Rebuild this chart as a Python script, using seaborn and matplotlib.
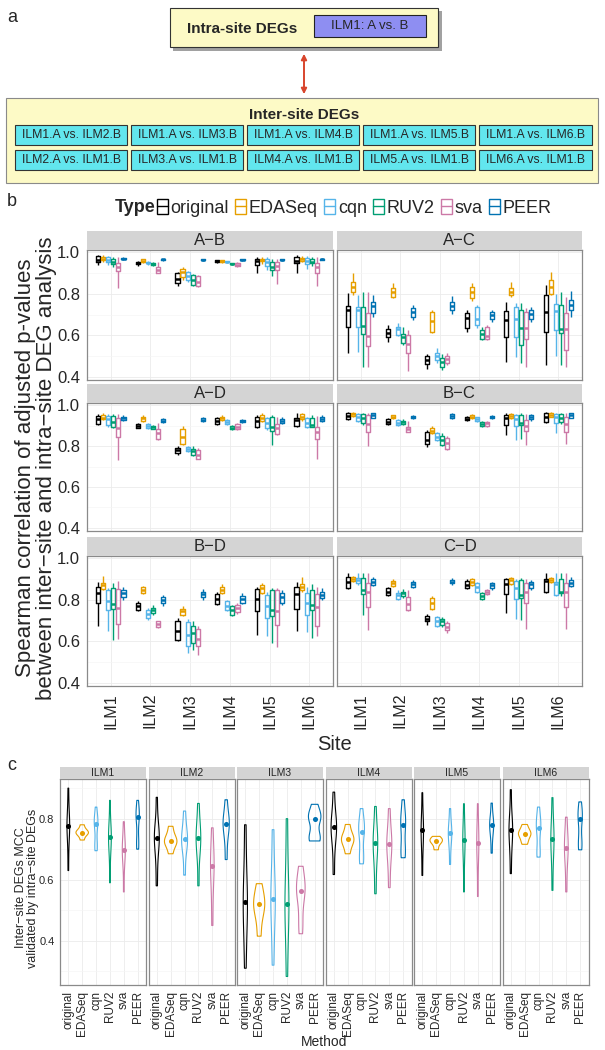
import numpy as np
import pandas as pd
import seaborn as sns
import matplotlib.pyplot as plt
from matplotlib.patches import Rectangle, Patch, FancyArrowPatch
from matplotlib.lines import Line2D

# ---------- data ----------
SITES = ["ILM1", "ILM2", "ILM3", "ILM4", "ILM5", "ILM6"]
METHODS = ["original", "EDASeq", "cqn", "RUV2", "sva", "PEER"]
COLORS = ["#000000", "#E69F00", "#56B4E9", "#009E73", "#CC79A7", "#0072B2"]
PAIRS = ["A−B", "A−C", "A−D", "B−C", "B−D", "C−D"]

# panel a labels
INTER_TOP = ["ILM1.A vs. ILM2.B", "ILM1.A vs. ILM3.B", "ILM1.A vs. ILM4.B",
             "ILM1.A vs. ILM5.B", "ILM1.A vs. ILM6.B"]
INTER_BOTTOM = ["ILM2.A vs. ILM1.B", "ILM3.A vs. ILM1.B", "ILM4.A vs. ILM1.B",
                "ILM5.A vs. ILM1.B", "ILM6.A vs. ILM1.B"]

# panel b: (min, q1, median, q3, max) per site, methods in METHODS order
AB = [
    [(0.94, 0.955, 0.965, 0.98, 0.985), (0.955, 0.963, 0.97, 0.978, 0.985), (0.94, 0.952, 0.962, 0.975, 0.98),
     (0.93, 0.942, 0.955, 0.97, 0.978), (0.83, 0.91, 0.93, 0.95, 0.975), (0.962, 0.966, 0.97, 0.974, 0.978)],
    [(0.935, 0.942, 0.948, 0.955, 0.958), (0.95, 0.955, 0.96, 0.966, 0.97), (0.94, 0.947, 0.95, 0.955, 0.958),
     (0.935, 0.94, 0.945, 0.95, 0.953), (0.90, 0.902, 0.915, 0.93, 0.955), (0.96, 0.963, 0.966, 0.968, 0.97)],
    [(0.838, 0.85, 0.872, 0.90, 0.905), (0.867, 0.883, 0.905, 0.918, 0.928), (0.855, 0.867, 0.886, 0.907, 0.912),
     (0.84, 0.843, 0.867, 0.89, 0.895), (0.835, 0.838, 0.859, 0.886, 0.89), (0.96, 0.963, 0.965, 0.968, 0.97)],
    [(0.948, 0.953, 0.958, 0.963, 0.965), (0.95, 0.955, 0.958, 0.962, 0.965), (0.95, 0.953, 0.955, 0.958, 0.96),
     (0.94, 0.942, 0.945, 0.948, 0.95), (0.93, 0.932, 0.94, 0.95, 0.955), (0.96, 0.963, 0.965, 0.968, 0.97)],
    [(0.90, 0.94, 0.958, 0.97, 0.975), (0.945, 0.957, 0.963, 0.97, 0.975), (0.915, 0.935, 0.955, 0.97, 0.975),
     (0.885, 0.915, 0.93, 0.955, 0.968), (0.848, 0.915, 0.935, 0.955, 0.97), (0.96, 0.963, 0.965, 0.968, 0.97)],
    [(0.902, 0.947, 0.96, 0.978, 0.985), (0.955, 0.96, 0.966, 0.973, 0.98), (0.92, 0.945, 0.96, 0.972, 0.98),
     (0.935, 0.947, 0.955, 0.97, 0.978), (0.838, 0.902, 0.93, 0.947, 0.975), (0.962, 0.964, 0.966, 0.969, 0.972)],
]
AC = [
    [(0.513, 0.642, 0.722, 0.741, 0.802), (0.794, 0.81, 0.835, 0.859, 0.902), (0.521, 0.642, 0.722, 0.735, 0.794),
     (0.446, 0.606, 0.645, 0.735, 0.81), (0.449, 0.549, 0.597, 0.709, 0.81), (0.687, 0.709, 0.741, 0.762, 0.794)],
    [(0.57, 0.59, 0.61, 0.629, 0.65), (0.778, 0.786, 0.81, 0.827, 0.85), (0.597, 0.602, 0.63, 0.642, 0.658),
     (0.553, 0.565, 0.59, 0.606, 0.642), (0.43, 0.513, 0.56, 0.60, 0.626), (0.674, 0.687, 0.711, 0.73, 0.746)],
    [(0.436, 0.462, 0.481, 0.50, 0.51), (0.61, 0.618, 0.67, 0.714, 0.722), (0.465, 0.481, 0.50, 0.516, 0.537),
     (0.433, 0.449, 0.473, 0.489, 0.51), (0.457, 0.468, 0.484, 0.50, 0.513), (0.703, 0.722, 0.741, 0.762, 0.79)],
    [(0.618, 0.634, 0.682, 0.709, 0.722), (0.767, 0.778, 0.81, 0.835, 0.851), (0.634, 0.65, 0.677, 0.735, 0.746),
     (0.578, 0.581, 0.606, 0.626, 0.642), (0.578, 0.581, 0.597, 0.639, 0.65), (0.666, 0.677, 0.698, 0.714, 0.722)],
    [(0.473, 0.59, 0.674, 0.719, 0.762), (0.786, 0.794, 0.81, 0.827, 0.859), (0.497, 0.59, 0.677, 0.735, 0.754),
     (0.465, 0.553, 0.634, 0.722, 0.754), (0.446, 0.581, 0.634, 0.714, 0.73), (0.666, 0.677, 0.703, 0.722, 0.735)],
    [(0.457, 0.618, 0.714, 0.794, 0.843), (0.794, 0.80, 0.835, 0.867, 0.907), (0.50, 0.626, 0.719, 0.751, 0.80),
     (0.457, 0.61, 0.629, 0.746, 0.81), (0.449, 0.529, 0.629, 0.709, 0.786), (0.69, 0.722, 0.746, 0.77, 0.815)],
]
AD = [
    [(0.904, 0.908, 0.931, 0.949, 0.957), (0.928, 0.931, 0.94, 0.952, 0.963), (0.896, 0.902, 0.931, 0.947, 0.957),
     (0.888, 0.896, 0.92, 0.947, 0.957), (0.732, 0.844, 0.888, 0.936, 0.957), (0.925, 0.928, 0.936, 0.944, 0.952)],
    [(0.888, 0.89, 0.90, 0.908, 0.912), (0.92, 0.925, 0.936, 0.944, 0.952), (0.883, 0.888, 0.899, 0.908, 0.912),
     (0.883, 0.886, 0.892, 0.899, 0.904), (0.831, 0.835, 0.863, 0.883, 0.912), (0.912, 0.918, 0.925, 0.931, 0.936)],
    [(0.759, 0.767, 0.78, 0.791, 0.80), (0.807, 0.812, 0.847, 0.883, 0.899), (0.77, 0.775, 0.786, 0.796, 0.802),
     (0.754, 0.759, 0.775, 0.786, 0.80), (0.735, 0.738, 0.759, 0.78, 0.791), (0.92, 0.923, 0.929, 0.936, 0.941)],
    [(0.904, 0.908, 0.923, 0.936, 0.944), (0.923, 0.928, 0.936, 0.944, 0.952), (0.905, 0.908, 0.918, 0.928, 0.933),
     (0.88, 0.883, 0.891, 0.899, 0.904), (0.88, 0.883, 0.896, 0.908, 0.912), (0.915, 0.918, 0.923, 0.928, 0.931)],
    [(0.888, 0.892, 0.925, 0.944, 0.952), (0.92, 0.925, 0.936, 0.952, 0.96), (0.88, 0.888, 0.915, 0.936, 0.944),
     (0.807, 0.876, 0.896, 0.944, 0.952), (0.855, 0.86, 0.888, 0.908, 0.944), (0.908, 0.915, 0.925, 0.933, 0.941)],
    [(0.896, 0.899, 0.928, 0.94, 0.96), (0.925, 0.931, 0.944, 0.957, 0.963), (0.888, 0.892, 0.915, 0.936, 0.944),
     (0.892, 0.896, 0.904, 0.94, 0.952), (0.738, 0.835, 0.871, 0.892, 0.946), (0.92, 0.925, 0.934, 0.944, 0.952)],
]
BC = [
    [(0.928, 0.931, 0.947, 0.96, 0.968), (0.944, 0.947, 0.957, 0.963, 0.968), (0.92, 0.925, 0.944, 0.957, 0.963),
     (0.904, 0.912, 0.936, 0.957, 0.963), (0.80, 0.871, 0.908, 0.952, 0.963), (0.936, 0.94, 0.952, 0.96, 0.963)],
    [(0.904, 0.907, 0.92, 0.931, 0.936), (0.934, 0.936, 0.944, 0.952, 0.952), (0.899, 0.902, 0.915, 0.928, 0.931),
     (0.905, 0.908, 0.918, 0.925, 0.931), (0.867, 0.87, 0.883, 0.896, 0.925), (0.933, 0.936, 0.942, 0.949, 0.953)],
    [(0.796, 0.812, 0.831, 0.867, 0.88), (0.859, 0.863, 0.876, 0.888, 0.899), (0.823, 0.831, 0.847, 0.863, 0.871),
     (0.80, 0.807, 0.831, 0.851, 0.863), (0.783, 0.786, 0.815, 0.84, 0.851), (0.931, 0.94, 0.949, 0.957, 0.96)],
    [(0.924, 0.928, 0.934, 0.944, 0.947), (0.934, 0.936, 0.944, 0.952, 0.955), (0.92, 0.923, 0.933, 0.941, 0.944),
     (0.896, 0.899, 0.908, 0.92, 0.925), (0.896, 0.899, 0.912, 0.92, 0.925), (0.933, 0.936, 0.942, 0.949, 0.953)],
    [(0.855, 0.904, 0.936, 0.952, 0.96), (0.931, 0.936, 0.947, 0.957, 0.963), (0.831, 0.899, 0.931, 0.952, 0.957),
     (0.835, 0.904, 0.912, 0.952, 0.96), (0.807, 0.876, 0.899, 0.928, 0.957), (0.925, 0.931, 0.944, 0.952, 0.957)],
    [(0.915, 0.918, 0.944, 0.96, 0.968), (0.941, 0.944, 0.952, 0.96, 0.965), (0.863, 0.915, 0.941, 0.957, 0.963),
     (0.908, 0.92, 0.936, 0.957, 0.963), (0.812, 0.867, 0.908, 0.944, 0.96), (0.936, 0.94, 0.95, 0.96, 0.963)],
]
BD = [
    [(0.675, 0.784, 0.835, 0.861, 0.888), (0.848, 0.851, 0.872, 0.883, 0.915), (0.648, 0.752, 0.792, 0.848, 0.856),
     (0.608, 0.755, 0.781, 0.856, 0.883), (0.611, 0.685, 0.76, 0.851, 0.893), (0.80, 0.813, 0.832, 0.848, 0.864)],
    [(0.744, 0.749, 0.768, 0.787, 0.795), (0.829, 0.835, 0.848, 0.861, 0.867), (0.704, 0.712, 0.733, 0.749, 0.76),
     (0.728, 0.736, 0.752, 0.763, 0.776), (0.666, 0.669, 0.685, 0.696, 0.70), (0.771, 0.787, 0.80, 0.813, 0.824)],
    [(0.60, 0.608, 0.648, 0.70, 0.712), (0.72, 0.728, 0.744, 0.755, 0.768), (0.544, 0.576, 0.632, 0.691, 0.707),
     (0.56, 0.592, 0.64, 0.675, 0.696), (0.536, 0.579, 0.611, 0.659, 0.675), (0.797, 0.813, 0.827, 0.84, 0.851)],
    [(0.776, 0.781, 0.803, 0.829, 0.84), (0.829, 0.832, 0.848, 0.861, 0.877), (0.744, 0.749, 0.771, 0.792, 0.80),
     (0.723, 0.728, 0.752, 0.768, 0.776), (0.733, 0.739, 0.76, 0.776, 0.784), (0.781, 0.787, 0.803, 0.819, 0.832)],
    [(0.632, 0.744, 0.803, 0.851, 0.864), (0.829, 0.835, 0.856, 0.872, 0.883), (0.624, 0.712, 0.771, 0.824, 0.84),
     (0.592, 0.723, 0.752, 0.848, 0.856), (0.573, 0.68, 0.747, 0.848, 0.856), (0.776, 0.787, 0.813, 0.832, 0.845)],
    [(0.648, 0.755, 0.829, 0.861, 0.888), (0.84, 0.845, 0.864, 0.877, 0.912), (0.643, 0.728, 0.787, 0.832, 0.861),
     (0.616, 0.752, 0.776, 0.848, 0.877), (0.624, 0.672, 0.765, 0.829, 0.864), (0.80, 0.808, 0.824, 0.84, 0.856)],
]
CD = [
    [(0.851, 0.856, 0.888, 0.909, 0.928), (0.888, 0.893, 0.901, 0.909, 0.915), (0.872, 0.88, 0.896, 0.904, 0.928),
     (0.728, 0.829, 0.848, 0.904, 0.928), (0.656, 0.765, 0.84, 0.88, 0.931), (0.867, 0.872, 0.888, 0.901, 0.912)],
    [(0.816, 0.824, 0.84, 0.856, 0.864), (0.864, 0.867, 0.88, 0.893, 0.899), (0.797, 0.803, 0.824, 0.835, 0.845),
     (0.808, 0.816, 0.832, 0.84, 0.851), (0.744, 0.752, 0.781, 0.813, 0.848), (0.856, 0.864, 0.877, 0.888, 0.896)],
    [(0.68, 0.696, 0.707, 0.72, 0.733), (0.749, 0.755, 0.784, 0.808, 0.816), (0.669, 0.675, 0.696, 0.717, 0.723),
     (0.669, 0.68, 0.696, 0.707, 0.717), (0.64, 0.653, 0.669, 0.688, 0.696), (0.872, 0.88, 0.888, 0.896, 0.904)],
    [(0.851, 0.856, 0.872, 0.893, 0.899), (0.867, 0.872, 0.888, 0.899, 0.904), (0.835, 0.84, 0.864, 0.88, 0.888),
     (0.80, 0.803, 0.819, 0.832, 0.84), (0.824, 0.829, 0.837, 0.845, 0.851), (0.848, 0.856, 0.869, 0.88, 0.888)],
    [(0.736, 0.829, 0.877, 0.901, 0.904), (0.872, 0.877, 0.896, 0.904, 0.909), (0.707, 0.803, 0.856, 0.893, 0.899),
     (0.704, 0.808, 0.824, 0.896, 0.904), (0.659, 0.784, 0.84, 0.88, 0.899), (0.848, 0.856, 0.875, 0.888, 0.896)],
    [(0.835, 0.84, 0.893, 0.901, 0.928), (0.883, 0.888, 0.896, 0.904, 0.909), (0.816, 0.824, 0.877, 0.888, 0.928),
     (0.819, 0.835, 0.84, 0.901, 0.928), (0.659, 0.765, 0.84, 0.883, 0.931), (0.861, 0.867, 0.883, 0.896, 0.909)],
]

# panel c: MCC values per method (METHODS order) for each site
MCC_ILM1 = [[0.63, 0.70, 0.75, 0.77, 0.776, 0.78, 0.80, 0.84, 0.90],
            [0.73, 0.745, 0.752, 0.754, 0.758, 0.765, 0.78],
            [0.695, 0.71, 0.72, 0.78, 0.787, 0.79, 0.80, 0.838],
            [0.59, 0.68, 0.72, 0.74, 0.742, 0.75, 0.78, 0.86],
            [0.56, 0.64, 0.68, 0.695, 0.698, 0.71, 0.74, 0.79],
            [0.70, 0.72, 0.73, 0.80, 0.81, 0.814, 0.82, 0.86]]
MCC_ILM2 = [[0.58, 0.66, 0.72, 0.735, 0.74, 0.745, 0.78, 0.87],
            [0.685, 0.71, 0.72, 0.727, 0.735, 0.75, 0.775],
            [0.615, 0.69, 0.72, 0.732, 0.74, 0.77, 0.825],
            [0.58, 0.68, 0.72, 0.738, 0.745, 0.78, 0.85],
            [0.45, 0.55, 0.62, 0.644, 0.66, 0.70, 0.77],
            [0.666, 0.73, 0.77, 0.784, 0.79, 0.81, 0.862]]
MCC_ILM3 = [[0.31, 0.42, 0.50, 0.527, 0.55, 0.65, 0.78],
            [0.415, 0.47, 0.50, 0.519, 0.53, 0.555, 0.587],
            [0.32, 0.43, 0.51, 0.538, 0.56, 0.65, 0.764],
            [0.283, 0.42, 0.50, 0.521, 0.55, 0.66, 0.80],
            [0.423, 0.47, 0.54, 0.563, 0.575, 0.60, 0.644],
            [0.727, 0.735, 0.745, 0.80, 0.805, 0.81, 0.847]]
MCC_ILM4 = [[0.617, 0.70, 0.75, 0.77, 0.775, 0.78, 0.82, 0.887],
            [0.685, 0.71, 0.725, 0.732, 0.74, 0.755, 0.781],
            [0.652, 0.67, 0.685, 0.75, 0.764, 0.77, 0.79, 0.833],
            [0.554, 0.64, 0.70, 0.72, 0.73, 0.76, 0.84],
            [0.574, 0.65, 0.70, 0.716, 0.725, 0.76, 0.833],
            [0.672, 0.69, 0.705, 0.78, 0.789, 0.80, 0.862]]
MCC_ILM5 = [[0.614, 0.70, 0.745, 0.762, 0.77, 0.80, 0.885],
            [0.698, 0.715, 0.725, 0.729, 0.733, 0.742],
            [0.65, 0.71, 0.74, 0.753, 0.76, 0.78, 0.833],
            [0.56, 0.66, 0.715, 0.729, 0.74, 0.77, 0.849],
            [0.545, 0.65, 0.705, 0.72, 0.735, 0.77, 0.849],
            [0.687, 0.74, 0.77, 0.78, 0.785, 0.80, 0.851]]
MCC_ILM6 = [[0.62, 0.70, 0.75, 0.764, 0.77, 0.80, 0.895],
            [0.716, 0.73, 0.745, 0.749, 0.755, 0.765, 0.781],
            [0.674, 0.685, 0.70, 0.765, 0.773, 0.78, 0.80, 0.838],
            [0.565, 0.66, 0.715, 0.732, 0.745, 0.78, 0.869],
            [0.56, 0.64, 0.69, 0.705, 0.715, 0.75, 0.805],
            [0.698, 0.715, 0.73, 0.80, 0.808, 0.815, 0.855]]

# ---------- tidy tables ----------
rows = []
for pair, table in zip(PAIRS, [AB, AC, AD, BC, BD, CD]):
    for site, boxes in zip(SITES, table):
        for method, five in zip(METHODS, boxes):
            for v in five:
                rows.append((pair, site, method, v))
spear = pd.DataFrame(rows, columns=["pair", "site", "Type", "value"])

rows = []
for site, table in zip(SITES, [MCC_ILM1, MCC_ILM2, MCC_ILM3, MCC_ILM4, MCC_ILM5, MCC_ILM6]):
    for method, vals in zip(METHODS, table):
        for v in vals:
            rows.append((site, method, v))
mcc = pd.DataFrame(rows, columns=["site", "Method", "value"])

# ---------- figure ----------
sns.set_style("white")
plt.rcParams["font.family"] = ["Liberation Sans", "DejaVu Sans"]

W, H = 605, 1050
fig = plt.figure(figsize=(W / 100, H / 100), dpi=100)


def frac(x0, y0, x1, y1):
    return [x0 / W, 1 - y1 / H, (x1 - x0) / W, (y1 - y0) / H]


def fbox(x0, y0, x1, y1, **kw):
    fig.add_artist(Rectangle((x0 / W, 1 - y1 / H), (x1 - x0) / W, (y1 - y0) / H,
                             transform=fig.transFigure, **kw))


def ftext(x, y, s, **kw):
    fig.text(x / W, 1 - y / H, s, **kw)


def style_panel(ax):
    ax.set_facecolor("white")
    ax.set_axisbelow(True)
    ax.grid(True, which="major", color="#EBEBEB", lw=0.6)
    ax.grid(True, which="minor", axis="y", color="#F5F5F5", lw=0.5)
    for s in ax.spines.values():
        s.set_color("#8A8A8A")
        s.set_linewidth(0.9)
    ax.tick_params(which="minor", length=0)
    ax.set_xlabel("")
    ax.set_ylabel("")


# ---------- panel a ----------
ftext(12, 17, "a", fontsize=13, ha="center", va="center")
fbox(173, 11, 442, 51, fc="#555555", ec="none", alpha=0.55)
fbox(170, 8, 438, 47, fc="#FDFAC6", ec="#333333", lw=0.8)
ftext(242, 29, "Intra-site DEGs", fontsize=11, weight="bold", ha="center", va="center")
fbox(314, 15, 426, 37, fc="#8E8EF2", ec="#222222", lw=0.8)
ftext(370, 26, "ILM1: A vs. B", fontsize=9.5, ha="center", va="center")
fig.add_artist(FancyArrowPatch((304 / W, 1 - 51 / H), (304 / W, 1 - 97 / H),
                               transform=fig.transFigure, arrowstyle="<|-|>",
                               mutation_scale=8, color="#D8452D", lw=1.4))
fbox(6, 98, 598, 183, fc="#FDFAC6", ec="#8A8A8A", lw=0.8)
ftext(304, 115, "Inter-site DEGs", fontsize=11, weight="bold", ha="center", va="center")
cols = [(15, 127), (131, 243), (247, 359), (363, 475), (479, 592)]
for (x0, x1), top, bottom in zip(cols, INTER_TOP, INTER_BOTTOM):
    for (y0, y1), lab in [((125, 145), top), ((150, 170), bottom)]:
        fbox(x0, y0, x1, y1, fc="#62E6EE", ec="#333333", lw=0.8)
        ftext((x0 + x1) / 2, (y0 + y1) / 2, lab, fontsize=8.8, ha="center", va="center")

# ---------- panel b ----------
ftext(12, 202, "b", fontsize=13, ha="center", va="center")
ftext(135, 208, "Type", fontsize=13, weight="bold", ha="center", va="center")
handles = [(Patch(fc="white", ec=c, lw=1.0), Line2D([], [], color=c, lw=1.0)) for c in COLORS]
fig.legend(handles, METHODS, loc="center left", bbox_to_anchor=(157 / W, 1 - 208 / H),
           ncol=6, frameon=False, fontsize=13, handlelength=0.6, handleheight=0.9,
           handletextpad=0.15, columnspacing=0.35, borderaxespad=0, borderpad=0)

col_x = [(87, 333), (337, 582)]
row_y = [(250, 380), (403, 531), (556, 686)]
for i, pair in enumerate(PAIRS):
    r, c = divmod(i, 2)
    x0, x1 = col_x[c]
    y0, y1 = row_y[r]
    fbox(x0, y0 - 19, x1, y0, fc="#D4D4D4", ec="none")
    ftext((x0 + x1) / 2, y0 - 9.5, pair, fontsize=12, ha="center", va="center")
    ax = fig.add_axes(frac(x0, y0, x1, y1))
    sns.boxplot(data=spear[spear["pair"] == pair], x="site", y="value", hue="Type",
                order=SITES, hue_order=METHODS, palette=COLORS, fill=False,
                whis=(0, 100), width=0.76, gap=0.15, linewidth=1.0, showcaps=False,
                medianprops=dict(linewidth=1.8), legend=False, ax=ax)
    style_panel(ax)
    ax.set_xlim(-0.6, 5.6)
    ax.set_ylim(0.385, 1.011)
    ax.set_yticks([0.4, 0.6, 0.8, 1.0])
    ax.set_yticks([0.5, 0.7, 0.9], minor=True)
    ax.set_xticks(range(6))
    ax.tick_params(which="major", length=3, width=0.6, color="#555555", pad=2)
    if c == 0:
        ax.set_yticklabels(["0.4", "0.6", "0.8", "1.0"], fontsize=12)
    else:
        ax.set_yticklabels([])
    if r == 2:
        ax.set_xticklabels(SITES, rotation=90, fontsize=11.5)
    else:
        ax.set_xticklabels([])

ftext(36, 468, "Spearman correlation of adjusted p-values\nbetween inter−site and intra−site DEG analysis",
      fontsize=16, rotation=90, ha="center", va="center", linespacing=0.95)
ftext(335, 745, "Site", fontsize=14.5, ha="center", va="center")

# ---------- panel c ----------
ftext(12, 765, "c", fontsize=13, ha="center", va="center")
for k, site in enumerate(SITES):
    x0 = 60 + k * 88.5
    x1 = x0 + 86
    fbox(x0, 767, x1, 779, fc="#D4D4D4", ec="none")
    ftext((x0 + x1) / 2, 773, site, fontsize=7.5, ha="center", va="center")
    ax = fig.add_axes(frac(x0, 779, x1, 985))
    d = mcc[mcc["site"] == site]
    sns.violinplot(data=d, x="Method", y="value", hue="Method", order=METHODS,
                   hue_order=METHODS, palette=COLORS, fill=False, inner=None, cut=0,
                   width=0.9, linewidth=0.8, bw_adjust=0.8, common_norm=True,
                   density_norm="area", legend=False, ax=ax)
    sns.pointplot(data=d, x="Method", y="value", hue="Method", order=METHODS,
                  hue_order=METHODS, palette=COLORS, estimator="median", errorbar=None,
                  linestyle="none", markers="o", markersize=1.6, legend=False, ax=ax)
    style_panel(ax)
    ax.set_xlim(-0.6, 5.6)
    ax.set_ylim(0.255, 0.93)
    ax.set_yticks([0.4, 0.6, 0.8])
    ax.set_yticks([0.3, 0.5, 0.7, 0.9], minor=True)
    ax.set_xticks(range(6))
    ax.set_xticklabels(METHODS, rotation=90, fontsize=8.5)
    ax.tick_params(which="major", length=2.5, width=0.6, color="#555555", pad=1.5)
    if k == 0:
        ax.set_yticklabels(["0.4", "0.6", "0.8"], fontsize=8)
    else:
        ax.tick_params(axis="y", length=0)
        ax.set_yticklabels([])

ftext(27, 888, "Inter−site DEGs MCC\nvalidated by intra−site DEGs", fontsize=9,
      rotation=90, ha="center", va="center", linespacing=1.0)
ftext(324, 1042, "Method", fontsize=10, ha="center", va="center")

fig.savefig("out.png", dpi=100, facecolor="white")
